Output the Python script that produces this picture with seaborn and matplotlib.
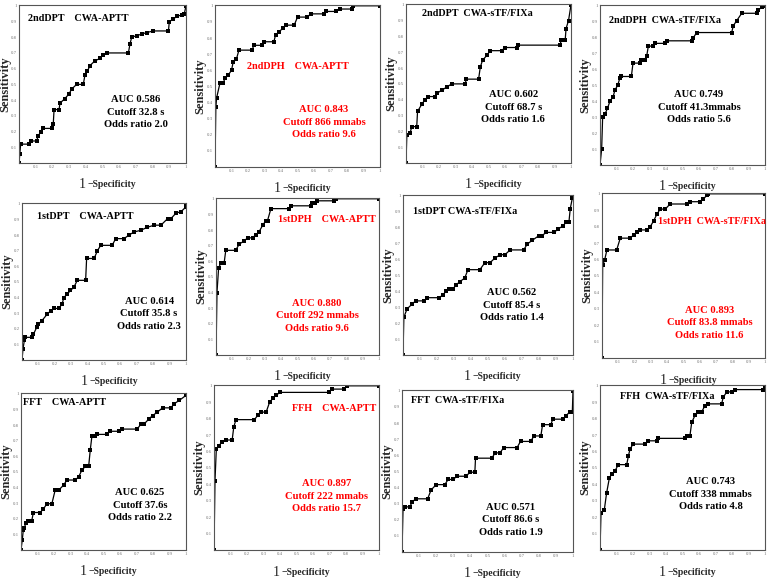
import matplotlib
matplotlib.use("Agg")
import matplotlib.pyplot as plt
import seaborn as sns

sns.set_style("white")
plt.rcParams["font.family"] = ["Liberation Serif", "DejaVu Serif"]

# ROC curves: (1 - specificity, sensitivity)
fpr_2nddpt_aptt = [0, 0.005, 0.01, 0.06, 0.07, 0.105, 0.115, 0.13, 0.145, 0.2, 0.205, 0.21, 0.24, 0.245, 0.275, 0.3,
                   0.315, 0.345, 0.385, 0.395, 0.41, 0.425, 0.455, 0.485, 0.505, 0.525, 0.655, 0.665, 0.675, 0.705,
                   0.735, 0.765, 0.805, 0.895, 0.9, 0.925, 0.945, 0.975, 0.99, 1.0]
tpr_2nddpt_aptt = [0, 0.06, 0.12, 0.12, 0.14, 0.14, 0.17, 0.2, 0.22, 0.22, 0.245, 0.34, 0.34, 0.38, 0.41, 0.44,
                   0.47, 0.5, 0.5, 0.56, 0.585, 0.62, 0.65, 0.665, 0.69, 0.70, 0.70, 0.76, 0.80, 0.81,
                   0.82, 0.83, 0.84, 0.84, 0.9, 0.915, 0.935, 0.94, 0.95, 1.0]

fpr_2nddph_aptt = [0, 0.005, 0.01, 0.03, 0.05, 0.06, 0.08, 0.10, 0.11, 0.13, 0.145, 0.225, 0.235, 0.285, 0.295, 0.357,
                   0.367, 0.39, 0.41, 0.43, 0.48, 0.5, 0.56, 0.58, 0.66, 0.675, 0.735, 0.755, 0.83, 0.835, 1.0]
tpr_2nddph_aptt = [0, 0.37, 0.43, 0.52, 0.52, 0.55, 0.57, 0.6, 0.65, 0.67, 0.725, 0.725, 0.755, 0.755, 0.777, 0.777,
                   0.82, 0.84, 0.86, 0.88, 0.88, 0.93, 0.93, 0.95, 0.95, 0.965, 0.965, 0.98, 0.98, 1.0, 1.0]

fpr_2nddpt_stf = [0, 0.005, 0.025, 0.035, 0.065, 0.07, 0.095, 0.115, 0.135, 0.175, 0.186, 0.217, 0.247, 0.277, 0.36,
                  0.364, 0.44, 0.45, 0.464, 0.49, 0.51, 0.58, 0.6, 0.67, 0.68, 0.935, 0.94, 0.965, 0.97, 0.985, 1.0]
tpr_2nddpt_stf = [0, 0.176, 0.19, 0.23, 0.23, 0.326, 0.37, 0.40, 0.42, 0.42, 0.44, 0.46, 0.48, 0.50, 0.50,
                  0.53, 0.53, 0.605, 0.65, 0.68, 0.71, 0.71, 0.73, 0.73, 0.745, 0.745, 0.78, 0.78, 0.85, 0.90, 1.0]

fpr_2nddph_stf = [0, 0.01, 0.016, 0.03, 0.045, 0.06, 0.08, 0.09, 0.107, 0.12, 0.13, 0.19, 0.2, 0.24, 0.25, 0.27,
                  0.283, 0.293, 0.323, 0.333, 0.394, 0.404, 0.555, 0.566, 0.586, 0.798, 0.808, 0.828, 0.859, 0.95,
                  0.96, 0.98, 1.0]
tpr_2nddph_stf = [0, 0.1, 0.30, 0.32, 0.355, 0.40, 0.43, 0.47, 0.50, 0.545, 0.556, 0.556, 0.64, 0.64, 0.662, 0.662,
                  0.684, 0.747, 0.747, 0.764, 0.764, 0.78, 0.78, 0.80, 0.832, 0.832, 0.875, 0.906, 0.953, 0.953,
                  0.975, 0.99, 1.0]

fpr_1stdpt_aptt = [0, 0.006, 0.015, 0.02, 0.06, 0.07, 0.09, 0.1, 0.12, 0.155, 0.175, 0.195, 0.225, 0.245, 0.255, 0.275,
                   0.295, 0.316, 0.337, 0.388, 0.394, 0.44, 0.46, 0.48, 0.55, 0.571, 0.622, 0.653, 0.684, 0.724,
                   0.765, 0.806, 0.847, 0.888, 0.908, 0.939, 0.97, 1.0, 1.0]
tpr_1stdpt_aptt = [0, 0.07, 0.13, 0.145, 0.145, 0.165, 0.21, 0.23, 0.25, 0.295, 0.315, 0.33, 0.33, 0.36, 0.40, 0.42,
                   0.445, 0.465, 0.51, 0.51, 0.65, 0.65, 0.70, 0.734, 0.734, 0.777, 0.777, 0.80, 0.82, 0.83,
                   0.85, 0.863, 0.863, 0.905, 0.905, 0.94, 0.95, 0.98, 1.0]

fpr_1stdph_aptt = [0, 0.006, 0.016, 0.03, 0.05, 0.06, 0.12, 0.143, 0.173, 0.194, 0.224, 0.245, 0.265, 0.286, 0.306,
                   0.316, 0.337, 0.449, 0.459, 0.58, 0.59, 0.61, 0.622, 0.724, 0.735, 1.0]
tpr_1stdph_aptt = [0, 0.40, 0.557, 0.59, 0.59, 0.67, 0.67, 0.71, 0.73, 0.75, 0.75, 0.77, 0.79, 0.83, 0.86,
                   0.86, 0.937, 0.937, 0.955, 0.955, 0.974, 0.974, 0.987, 0.987, 1.0, 1.0]

fpr_1stdpt_stf = [0, 0.005, 0.024, 0.054, 0.074, 0.124, 0.143, 0.213, 0.233, 0.253, 0.273, 0.293, 0.313, 0.333, 0.363,
                  0.382, 0.452, 0.482, 0.512, 0.542, 0.572, 0.6, 0.63, 0.71, 0.731, 0.76, 0.8, 0.82, 0.84, 0.89,
                  0.91, 0.94, 0.96, 0.976, 0.984, 0.996, 1.0]
tpr_1stdpt_stf = [0, 0.237, 0.29, 0.32, 0.34, 0.34, 0.36, 0.36, 0.376, 0.40, 0.415, 0.415, 0.44, 0.46, 0.483,
                  0.536, 0.536, 0.58, 0.58, 0.61, 0.63, 0.63, 0.66, 0.66, 0.697, 0.72, 0.75, 0.75, 0.77, 0.77,
                  0.79, 0.81, 0.835, 0.835, 0.92, 0.985, 1.0]

fpr_1stdph_stf = [0, 0.004, 0.016, 0.03, 0.09, 0.112, 0.173, 0.194, 0.214, 0.235, 0.275, 0.296, 0.316, 0.337, 0.357,
                  0.388, 0.418, 0.52, 0.541, 0.602, 0.622, 0.643, 0.653, 1.0]
tpr_1stdph_stf = [0, 0.565, 0.596, 0.658, 0.658, 0.73, 0.73, 0.75, 0.766, 0.78, 0.78, 0.80, 0.834, 0.876, 0.907,
                  0.907, 0.938, 0.938, 0.952, 0.952, 0.969, 0.99, 1.0, 1.0]

fpr_fft_aptt = [0, 0.008, 0.014, 0.02, 0.03, 0.045, 0.065, 0.075, 0.116, 0.136, 0.157, 0.187, 0.207, 0.228, 0.258,
                0.278, 0.33, 0.35, 0.37, 0.39, 0.41, 0.42, 0.43, 0.45, 0.46, 0.52, 0.54, 0.594, 0.614, 0.705,
                0.726, 0.746, 0.776, 0.797, 0.827, 0.858, 0.909, 0.929, 0.96, 1.0, 1.0]
tpr_fft_aptt = [0, 0.067, 0.13, 0.14, 0.176, 0.187, 0.187, 0.24, 0.24, 0.263, 0.296, 0.296, 0.383, 0.383, 0.415,
                0.448, 0.448, 0.47, 0.513, 0.535, 0.535, 0.643, 0.73, 0.73, 0.74, 0.74, 0.76, 0.76, 0.774, 0.774,
                0.806, 0.806, 0.84, 0.86, 0.883, 0.91, 0.91, 0.937, 0.958, 0.99, 1.0]

fpr_ffh_aptt = [0, 0.006, 0.014, 0.03, 0.05, 0.07, 0.11, 0.12, 0.133, 0.245, 0.265, 0.286, 0.316, 0.337, 0.357, 0.378,
                0.4, 0.694, 0.714, 0.786, 0.806, 1.0]
tpr_ffh_aptt = [0, 0.42, 0.614, 0.635, 0.66, 0.67, 0.67, 0.75, 0.794, 0.794, 0.82, 0.84, 0.84, 0.90, 0.924, 0.944,
                0.96, 0.96, 0.98, 0.98, 1.0, 1.0]

fpr_fft_stf = [0, 0.006, 0.02, 0.045, 0.06, 0.08, 0.15, 0.17, 0.2, 0.25, 0.27, 0.3, 0.32, 0.376, 0.396, 0.426, 0.43,
               0.525, 0.545, 0.574, 0.594, 0.673, 0.693, 0.752, 0.772, 0.812, 0.822, 0.871, 0.881, 0.941, 0.96,
               0.98, 0.996, 1.0]
tpr_fft_stf = [0, 0.264, 0.28, 0.28, 0.31, 0.33, 0.33, 0.385, 0.418, 0.418, 0.45, 0.45, 0.47, 0.47, 0.495, 0.495,
               0.582, 0.582, 0.615, 0.615, 0.648, 0.648, 0.686, 0.686, 0.72, 0.72, 0.79, 0.79, 0.824, 0.824, 0.846,
               0.868, 0.868, 1.0]

fpr_ffh_stf = [0, 0.006, 0.026, 0.04, 0.057, 0.07, 0.09, 0.111, 0.162, 0.172, 0.182, 0.2, 0.273, 0.293, 0.343, 0.354,
               0.515, 0.525, 0.545, 0.556, 0.576, 0.596, 0.616, 0.636, 0.657, 0.737, 0.747, 0.768, 0.798, 0.818,
               0.99, 1.0]
tpr_ffh_stf = [0, 0.224, 0.244, 0.347, 0.44, 0.46, 0.48, 0.52, 0.52, 0.573, 0.614, 0.645, 0.645, 0.665, 0.665, 0.68,
               0.68, 0.696, 0.696, 0.778, 0.82, 0.84, 0.84, 0.88, 0.89, 0.89, 0.93, 0.963, 0.963, 0.977,
               0.977, 1.0]

titles = ["2ndDPT    CWA-APTT", "2ndDPH    CWA-APTT", "2ndDPT  CWA-sTF/FIXa", "2ndDPH  CWA-sTF/FIXa",
          "1stDPT    CWA-APTT", "1stDPH    CWA-APTT", "1stDPT CWA-sTF/FIXa", "1stDPH  CWA-sTF/FIXa",
          "FFT    CWA-APTT", "FFH    CWA-APTT", "FFT  CWA-sTF/FIXa", "FFH  CWA-sTF/FIXa"]
auc = ["0.586", "0.843", "0.602", "0.749", "0.614", "0.880", "0.562", "0.893", "0.625", "0.897", "0.571", "0.743"]
cutoff = ["32.8 s", "866 mmabs", "68.7 s", "41.3mmabs", "35.8 s", "292 mmabs", "85.4 s", "83.8 mmabs",
          "37.6s", "222 mmabs", "86.6 s", "338 mmabs"]
odds = ["2.0", "9.6", "1.6", "5.6", "2.3", "9.6", "1.4", "11.6", "2.2", "15.7", "1.9", "4.8"]
highlight = [False, True, False, False, False, True, False, True, False, True, False, False]

curves = [(fpr_2nddpt_aptt, tpr_2nddpt_aptt), (fpr_2nddph_aptt, tpr_2nddph_aptt),
          (fpr_2nddpt_stf, tpr_2nddpt_stf), (fpr_2nddph_stf, tpr_2nddph_stf),
          (fpr_1stdpt_aptt, tpr_1stdpt_aptt), (fpr_1stdph_aptt, tpr_1stdph_aptt),
          (fpr_1stdpt_stf, tpr_1stdpt_stf), (fpr_1stdph_stf, tpr_1stdph_stf),
          (fpr_fft_aptt, tpr_fft_aptt), (fpr_ffh_aptt, tpr_ffh_aptt),
          (fpr_fft_stf, tpr_fft_stf), (fpr_ffh_stf, tpr_ffh_stf)]

# layout: axes rectangles (pixels: left, top, right, bottom) and text placement in axes coords
W, H = 770, 579
boxes = [(19, 5, 186, 163), (215, 5, 380, 167), (406, 4, 571, 163), (600, 5, 765, 165),
         (22, 203, 186, 360), (216, 198, 379, 355), (403, 195, 573, 355), (602, 193, 765, 358),
         (21, 393, 186, 550), (214, 385, 379, 550), (402, 390, 573, 552), (600, 385, 765, 550)]
title_pos = [(0.056, 0.915, "left"), (0.5, 0.62, "center"), (0.095, 0.94, "left"), (0.057, 0.906, "left"),
             (0.09, 0.916, "left"), (0.38, 0.86, "left"), (0.06, 0.9, "left"), (0.345, 0.83, "left"),
             (0.01, 0.937, "left"), (0.47, 0.86, "left"), (0.05, 0.934, "left"), (0.12, 0.93, "left")]
stat_pos = [(0.70, 0.32), (0.66, 0.277), (0.65, 0.35), (0.60, 0.36),
            (0.775, 0.294), (0.62, 0.25), (0.64, 0.31), (0.66, 0.213),
            (0.72, 0.285), (0.68, 0.326), (0.635, 0.2), (0.67, 0.337)]

fig = plt.figure(figsize=(7.7, 5.79), dpi=100)
ticks = [0.1, 0.2, 0.3, 0.4, 0.5, 0.6, 0.7, 0.8, 0.9, 1]
tick_labels = ["0.1", "0.2", "0.3", "0.4", "0.5", "0.6", "0.7", "0.8", "0.9", "1"]

for i, (fpr, tpr) in enumerate(curves):
    l, t, r, b = boxes[i]
    ax = fig.add_axes([l / W, 1 - b / H, (r - l) / W, (b - t) / H])
    sns.lineplot(x=fpr, y=tpr, sort=False, estimator=None, color="black", linewidth=0.9,
                 marker="s", markersize=2.2, markeredgewidth=0, ax=ax)
    ax.set_xlim(0, 1)
    ax.set_ylim(0, 1.005)
    ax.set_xticks(ticks)
    ax.set_yticks(ticks)
    ax.set_xticklabels(tick_labels)
    ax.set_yticklabels(tick_labels)
    ax.tick_params(length=0, labelsize=3.5, labelcolor="#777777", pad=1.5)
    for s in ax.spines.values():
        s.set_color("#555555")
        s.set_linewidth(0.8)
    ax.set_ylabel("Sensitivity", fontsize=9, fontweight="bold", va="center")
    ax.yaxis.set_label_coords(-min(15, l - 5) / (r - l), 0.5)
    ax.text(0.40, -0.135, "1", transform=ax.transAxes, ha="right", va="center", fontsize=10)
    ax.text(0.41, -0.135, "\u2212Specificity", transform=ax.transAxes, ha="left", va="center",
            fontsize=7, fontweight="bold")

    col = "red" if highlight[i] else "black"
    tx, ty, ha = title_pos[i]
    ax.text(tx, ty, titles[i], transform=ax.transAxes, ha=ha, va="center",
            fontsize=7.3, fontweight="bold", color=col)
    sx, sy = stat_pos[i]
    ax.text(sx, sy, f"AUC {auc[i]}\nCutoff {cutoff[i]}\nOdds ratio {odds[i]}", transform=ax.transAxes,
            ha="center", va="center", fontsize=7.6, fontweight="bold", color=col, linespacing=1.5)

fig.savefig("out.png", dpi=100)
